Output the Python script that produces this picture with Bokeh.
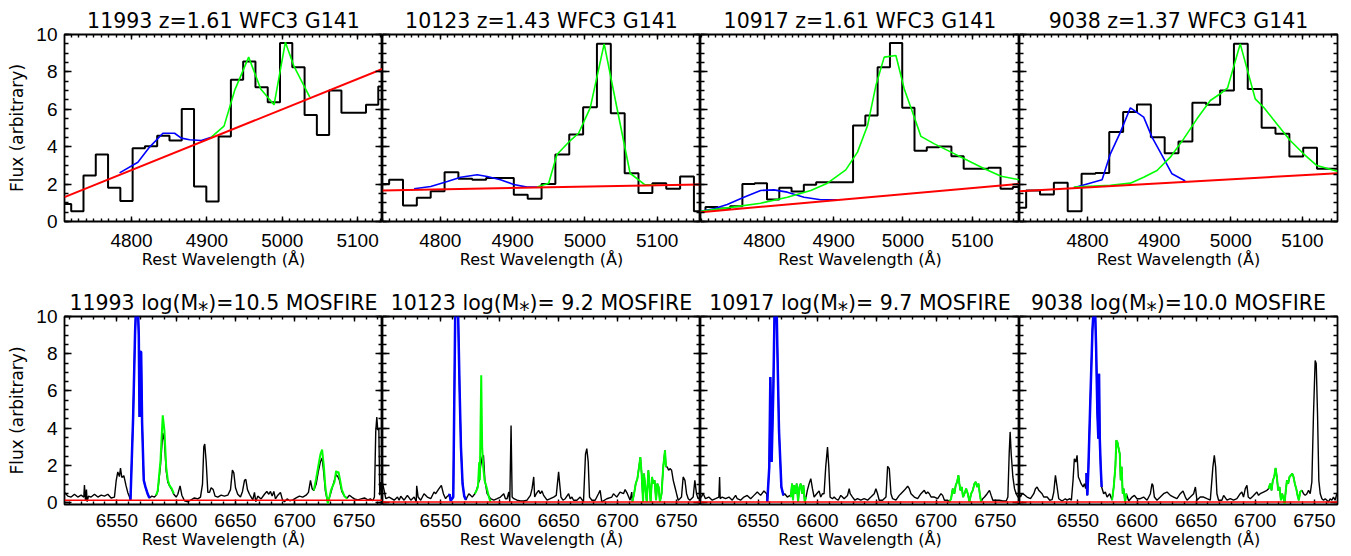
from bokeh.plotting import figure
from bokeh.models import (FixedTicker, LinearAxis, Range1d, CustomJSTickFormatter, Span)
from bokeh.layouts import row, column
from bokeh.embed import file_html
from bokeh.resources import INLINE

# ---------------- text ----------------
obj_ids = ["11993", "10123", "10917", "9038"]
grism_z = ["1.61", "1.43", "1.61", "1.37"]
log_mass = ["10.5", " 9.2", " 9.7", "10.0"]
x_label = "Rest Wavelength (\u00c5)"
y_label = "Flux (arbitrary)"

# ---------------- axes ----------------
grism_xrange = [(4711, 5133), (4720, 5160), (4708, 5168), (4705, 5149)]
mos_xrange = [(6505.9, 6773.9), (6500.7, 6770.3), (6501.4, 6770.4), (6500.6, 6769.6)]
grism_yrange = (0.0, 10.0)
mos_yrange = (-0.1, 10.0)
grism_xticks = [4800, 4900, 5000, 5100]
grism_xminor = list(range(4700, 5200, 10))
mos_xticks = [6550, 6600, 6650, 6700, 6750]
mos_xminor = list(range(6500, 6780, 10))
y_ticks = [0, 2, 4, 6, 8, 10]
y_minor = [k * 0.5 for k in range(-1, 22)]

# ---------------- WFC3 G141 (top row) ----------------
g1_edges = [4703.6, 4719.9, 4736.2, 4752.5, 4768.8, 4785.1, 4801.4, 4817.7, 4834.0, 4850.3, 4866.6, 4882.9, 4899.2, 4915.5,
            4931.8, 4948.1, 4964.4, 4980.7, 4997.0, 5013.3, 5029.6, 5045.9, 5062.2, 5078.5, 5094.8, 5111.1, 5127.4, 5143.7]
g1_flux = [0.94, 0.55, 2.46, 3.58, 1.80, 1.09, 3.92, 4.03, 4.58, 4.33, 6.02, 1.87, 1.07, 4.55, 7.58, 8.56, 7.18, 6.38,
           9.54, 8.25, 5.70, 4.63, 7.00, 5.81, 5.81, 6.24, 7.22]
g1_cont_w = [4711, 5133]
g1_cont_f = [1.30, 8.16]
g1_hb_w = [4784.1, 4808.4, 4823.9, 4841.6, 4857.1, 4866.0, 4877.1, 4892.5, 4905.8]
g1_hb_f = [2.60, 3.17, 3.98, 4.72, 4.72, 4.46, 4.37, 4.33, 4.51]
g1_o3_w = [4905.8, 4922.7, 4936.8, 4955.4, 4971.4, 4989.1, 5004.1, 5015.6, 5036.5]
g1_o3_f = [4.51, 5.10, 7.01, 8.79, 7.09, 6.24, 9.59, 8.29, 6.65]

g2_edges = [4710.0, 4729.2, 4748.4, 4767.5, 4786.7, 4805.9, 4825.0, 4844.2, 4863.4, 4882.5, 4901.7, 4920.9, 4940.1,
            4959.2, 4978.4, 4997.6, 5016.7, 5035.9, 5055.1, 5074.2, 5093.4, 5112.6, 5131.8, 5150.9, 5170.1]
g2_flux = [2.01, 2.23, 0.86, 1.27, 1.62, 2.64, 2.28, 2.23, 2.32, 2.32, 1.43, 1.21, 2.00, 3.58, 4.65, 6.11, 9.50, 5.79,
           2.58, 1.52, 2.05, 1.75, 2.41, 0.55]
g2_cont_w = [4720, 5160]
g2_cont_f = [1.66, 1.98]
g2_hb_w = [4763.7, 4786.7, 4809.7, 4828.1, 4851.0, 4864.8, 4883.2, 4901.6, 4920.0, 4933.8]
g2_hb_f = [1.75, 1.87, 2.14, 2.37, 2.50, 2.41, 2.23, 1.98, 1.84, 1.84]
g2_o3_w = [4933.8, 4949.9, 4961.4, 4979.8, 4991.3, 5007.4, 5026.7, 5044.2, 5062.6, 5083.2, 5099.3]
g2_o3_f = [1.84, 2.05, 3.58, 4.33, 4.72, 6.08, 9.50, 6.11, 2.58, 1.96, 1.96]

g3_edges = [4697.5, 4715.2, 4732.9, 4750.7, 4768.4, 4786.1, 4803.9, 4821.6, 4839.3, 4857.0, 4874.8, 4892.5, 4910.2, 4928.0,
            4945.7, 4963.4, 4981.2, 4998.9, 5016.6, 5034.3, 5052.1, 5069.8, 5087.5, 5105.3, 5123.0, 5140.7, 5158.4, 5176.2]
g3_flux = [0.55, 0.77, 0.70, 0.82, 2.01, 2.05, 1.18, 1.80, 1.60, 1.96, 2.10, 2.10, 2.10, 5.13, 5.67, 8.25, 9.54, 6.08,
           3.78, 3.97, 4.01, 3.49, 2.82, 2.82, 2.87, 1.75, 1.84]
g3_cont_w = [4708, 5168]
g3_cont_f = [0.50, 2.01]
g3_hb_w = [4708.0, 4727.3, 4746.5, 4770.6, 4794.7, 4814.0, 4833.2, 4857.3, 4881.4, 4905.5]
g3_hb_f = [0.55, 0.68, 0.91, 1.30, 1.66, 1.69, 1.57, 1.30, 1.16, 1.16]
g3_o3_w = [4708.0, 4746.5, 4794.7, 4833.2, 4867.0, 4891.0, 4917.5, 4934.4, 4948.9, 4960.9, 4972.9, 4989.8, 5001.8,
           5016.3, 5025.9, 5045.2, 5069.3, 5093.4, 5117.4, 5141.5, 5168.0]
g3_o3_f = [0.55, 0.73, 0.98, 1.30, 1.66, 2.05, 2.76, 3.71, 5.13, 7.27, 8.79, 8.88, 7.09, 5.58, 4.55, 4.15, 3.71, 3.26,
           2.82, 2.42, 2.23]

g4_edges = [4695.0, 4714.3, 4733.6, 4753.0, 4772.3, 4791.7, 4811.0, 4830.3, 4849.7, 4869.0, 4888.4, 4907.7, 4927.0,
            4946.4, 4965.7, 4985.1, 5004.4, 5023.7, 5043.1, 5062.4, 5081.8, 5101.1, 5120.4, 5139.8, 5159.1]
g4_flux = [0.73, 1.66, 1.44, 2.07, 0.55, 2.55, 2.60, 4.78, 5.85, 6.26, 4.51, 3.65, 4.28, 6.35, 6.24, 7.00, 9.50, 7.09,
           5.01, 4.69, 3.48, 3.94, 2.82, 2.82]
g4_cont_w = [4705, 5149]
g4_cont_f = [1.62, 2.58]
g4_hb_w = [4780.8, 4799.4, 4820.3, 4831.9, 4845.9, 4859.8, 4878.4, 4890.0, 4904.0, 4917.9, 4936.5]
g4_hb_f = [1.80, 2.01, 2.23, 3.62, 4.78, 6.08, 5.58, 4.51, 3.53, 2.55, 2.17]
g4_o3_w = [4780.8, 4831.9, 4859.8, 4878.4, 4897.0, 4915.6, 4934.2, 4952.8, 4971.4, 4985.3, 4995.6, 5013.2, 5034.1,
           5045.8, 5064.4, 5083.0, 5101.6, 5120.2, 5149.0]
g4_o3_f = [1.84, 1.93, 2.05, 2.37, 2.73, 3.44, 4.42, 5.49, 6.47, 6.83, 7.15, 9.50, 6.56, 6.11, 5.22, 4.33, 3.62, 2.99, 2.69]

# ---------------- MOSFIRE (bottom row) ----------------
b1_w = [6505.9, 6508.7, 6511.5, 6514.3, 6517.1, 6519.9, 6522.2, 6522.7, 6523.6, 6524.4, 6525.0, 6526.1, 6528.3, 6531.2,
        6534.0, 6536.8, 6539.6, 6542.4, 6545.2, 6548.0, 6549.4, 6550.8, 6552.2, 6553.1, 6554.2, 6555.9, 6557.8, 6559.2,
        6560.7,
        6579.5, 6581.7, 6583.1, 6584.5, 6586.8, 6588.7, 6590.1, 6591.6, 6593.0, 6594.4, 6596.3, 6598.0, 6600.0, 6601.4,
        6603.3, 6604.8, 6607.0, 6609.8, 6612.6, 6615.4, 6618.2, 6620.5, 6622.2, 6623.3, 6624.1, 6625.3, 6626.7, 6628.1,
        6629.5, 6631.2, 6632.8, 6635.1, 6637.9, 6640.7, 6643.5, 6645.8, 6647.4, 6648.6, 6650.0, 6651.9, 6654.2, 6655.9,
        6657.6, 6658.7, 6660.1, 6661.8, 6663.2, 6664.6, 6666.0, 6667.1, 6668.8, 6671.6, 6674.4, 6676.4, 6678.1, 6679.5,
        6680.9, 6682.3, 6683.7, 6685.7, 6687.9, 6689.6, 6691.3, 6693.5, 6695.8, 6698.3, 6701.1, 6703.9, 6706.7, 6709.5,
        6711.5, 6713.2, 6714.6, 6716.0, 6718.0, 6719.9, 6721.6, 6723.0, 6724.4, 6725.8, 6727.8, 6730.0, 6732.0, 6733.4,
        6734.8, 6736.2, 6737.6, 6739.6, 6741.8, 6744.1, 6746.0, 6748.0, 6750.3, 6753.1, 6755.9, 6758.7, 6761.5, 6763.7,
        6765.7, 6767.1, 6768.2, 6769.1, 6769.9, 6770.8, 6771.6, 6772.7, 6773.9]
b1_f = [0.55, 0.35, 0.30, 0.45, 0.30, 0.40, 0.30, 0.95, 0.10, 0.70, 0.05, 0.35, 0.30, 0.45, 0.30, 0.40, 0.35, 0.45,
        0.25, 0.30, 1.15, 1.65, 1.40, 1.85, 1.35, 1.45, 0.90, 0.55, 0.30,
        0.35, 0.30, 0.39, 0.60, 2.00, 3.75, 3.30, 1.70, 1.10, 0.90, 0.70, 0.45, 0.30, 0.45, 0.90, 0.40, 0.10, 0.05, 0.15,
        0.25, 0.20, 0.30, 1.00, 3.00, 3.15, 2.20, 0.55, 0.55, 0.80, 0.70, 0.35, 0.30, 0.40, 0.35, 0.40, 0.70, 1.75, 1.60,
        0.80, 0.45, 0.30, 0.60, 1.20, 1.25, 0.70, 0.45, 0.30, 0.15, 0.55, 0.05, 0.35, 0.20, 0.45, 0.60, 0.45, 0.60, 0.35,
        0.60, 0.20, 0.40, 0.55, 0.15, 0.05, 0.20, 0.10, 0.15, 0.25, 0.35, 0.30, 0.40, 0.55, 1.20, 0.75, 0.65, 1.00, 1.70,
        2.20, 2.40, 1.60, 0.60, 0.00, 0.45, 0.90, 1.20, 1.50, 1.40, 1.20, 0.60, 0.35, 0.25, 0.40, 0.30, 0.20, 0.15, 0.20,
        0.25, 0.15, 0.20, 0.10, 0.30, 3.80, 4.60, 3.90, 4.00, 0.40, 1.10, 0.80]
b1_ha_w = [6561.5, 6563.7, 6565.4, 6566.3, 6567.7, 6568.5, 6569.1, 6569.6, 6570.5, 6571.3, 6572.7, 6574.1, 6576.1, 6577.5]
b1_ha_f = [0.12, 4.5, 9.2, 10.6, 10.6, 9.0, 4.6, 8.1, 8.1, 4.3, 1.2, 0.85, 0.45, 0.25]
b1_n2_w = [6583.1, 6584.5, 6586.8, 6588.7, 6590.1, 6591.6, 6593.0, 6594.4, 6596.3, 6598.0]
b1_n2_f = [0.39, 0.66, 2.27, 4.69, 3.88, 1.92, 1.20, 0.93, 0.75, 0.48]
b1_s2_w = [6716.0, 6718.0, 6719.9, 6721.6, 6723.0, 6724.4, 6725.8, 6727.8, 6729.2, 6730.6, 6732.0, 6733.4, 6734.8,
           6735.7, 6736.8, 6738.2, 6739.6, 6741.8, 6744.1]
b1_s2_f = [0.65, 1.3, 2.0, 2.6, 2.85, 2.0, 0.8, -0.05, 0.3, 0.7, 0.9, 1.1, 1.7, 1.6, 1.65, 1.2, 0.7, 0.35, 0.20]
b1_cont = 0.13

b2_w = [6500.7, 6502.1, 6503.5, 6506.3, 6510.6, 6513.4, 6514.8, 6516.2, 6519.0, 6521.8, 6524.7, 6527.5, 6529.3, 6529.7,
        6530.9, 6533.1, 6535.9, 6538.7, 6541.6, 6544.4, 6545.8, 6548.6, 6550.6, 6552.3, 6554.2, 6555.6,
        6572.5, 6573.9, 6575.4, 6576.8, 6579.0, 6580.4, 6582.7, 6583.8, 6585.2, 6586.3, 6587.5, 6589.4, 6592.3, 6595.1,
        6597.9, 6600.7, 6603.5, 6604.9, 6606.3, 6607.8, 6608.6, 6609.7, 6610.6, 6612.0, 6614.8, 6617.6, 6620.4, 6623.2,
        6626.1, 6627.5, 6628.9, 6629.7, 6631.1, 6633.1, 6634.5, 6635.9, 6637.3, 6640.2, 6643.0, 6645.8, 6648.0, 6650.0,
        6650.9, 6652.0, 6653.7, 6655.6, 6658.5, 6659.9, 6661.3, 6662.7, 6665.5, 6668.3, 6671.1, 6672.8, 6673.9, 6675.1,
        6676.2, 6678.2, 6681.0, 6683.8, 6685.2, 6686.6, 6690.9, 6695.1, 6696.5, 6697.9, 6699.3, 6702.1, 6705.0, 6706.4,
        6708.3, 6710.6, 6712.0,
        6742.1, 6743.3, 6744.4, 6745.8, 6747.2, 6748.6, 6750.0, 6751.4, 6752.8, 6754.2, 6755.6, 6757.1, 6758.5, 6759.9,
        6761.3, 6764.1, 6765.5, 6766.9, 6768.3, 6770.3]
b2_f = [1.06, 0.66, 0.21, 0.30, 0.13, 0.30, 0.13, 0.34, 0.13, 0.39, 0.13, 0.30, 0.05, 0.90, 0.30, 0.13, 0.48, 0.30,
        0.21, 0.57, 0.48, 0.75, 0.93, 0.48, 0.21, 0.34,
        0.30, 0.48, 0.39, 0.30, 0.48, 0.66, 1.20, 1.92, 2.45, 2.54, 1.20, 0.48, 0.21, 0.13, 0.21, 0.30, 0.48, 0.21, 0.21,
        0.57, 0.04, 4.15, 0.30, 0.21, 0.13, 0.09, 0.09, 0.13, 0.39, 0.75, 1.38, 0.30, 0.48, 0.66, 0.48, 0.63, 0.39, 0.13,
        0.21, 0.30, 0.39, 1.65, 1.02, 0.30, 0.13, 0.21, 0.48, 0.21, 0.30, 0.13, 0.13, 0.30, 0.04, 2.60, 2.90, 2.20, 0.30,
        0.13, 0.13, 0.48, 0.66, 0.04, 0.21, 0.30, 0.48, 0.39, 0.30, 0.57, 0.48, 0.70, 0.48, 0.13, 0.57,
        1.92, 1.74, 1.83, 1.74, 1.20, 0.84, 0.48, 0.13, 0.21, 0.30, 1.38, 1.20, 0.48, 0.21, 0.13, 0.30, 1.20, 0.48, 0.21,
        0.30]
b2_ha_w = [6557.0, 6557.6, 6558.5, 6560.7, 6562.4, 6564.7, 6566.1, 6567.2, 6568.6, 6570.0, 6571.4]
b2_ha_f = [0.39, 0.45, 0.10, 0.30, 10.5, 10.5, 6.0, 3.0, 1.0, 0.35, 0.15]
b2_n2_w = [6579.0, 6580.4, 6581.6, 6582.7, 6583.2, 6584.4, 6585.2, 6586.1, 6587.2, 6588.9, 6590.9, 6592.3]
b2_n2_f = [0.48, 0.66, 0.84, 2.18, 1.20, 6.84, 2.99, 1.92, 1.20, 0.84, 0.30, 0.04]
b2_s2_w = [6712.5, 6714.0, 6715.4, 6716.8, 6718.2, 6719.3, 6720.4, 6721.6, 6722.4, 6723.5, 6724.7, 6726.1, 6726.9,
           6728.0, 6729.2, 6730.3, 6731.4, 6732.6, 6733.7, 6734.8, 6735.9, 6737.3, 6738.7, 6740.2, 6741.0]
b2_s2_f = [0.04, 0.48, 1.02, 1.29, 1.92, 2.45, 1.56, 0.04, 1.56, 0.84, 0.04, 1.74, 1.02, 0.04, 1.38, 1.02, 1.20, 0.13,
           1.02, 0.84, 0.04, 0.48, 1.92, 2.81, 1.92]
b2_cont = 0.04

b3_w = [6501.4, 6502.0, 6503.7, 6505.6, 6508.4, 6511.3, 6514.1, 6516.9, 6517.5, 6518.0, 6519.7, 6522.5, 6525.4, 6528.2,
        6531.0, 6532.4, 6535.2, 6538.0, 6540.8, 6543.7, 6546.5, 6549.3, 6552.1, 6554.9, 6557.2,
        6572.4, 6574.6, 6576.9,
        6591.5, 6593.0, 6594.4, 6595.8, 6597.2, 6599.4, 6601.4, 6602.8, 6604.2, 6605.6, 6607.0, 6608.5, 6609.6, 6610.7,
        6612.7, 6614.1, 6615.5, 6617.5, 6619.7, 6621.1, 6622.5, 6625.4, 6626.8, 6627.6, 6629.6, 6631.6, 6633.8, 6636.6,
        6639.4, 6642.3, 6645.1, 6647.9, 6649.3, 6650.7, 6652.1, 6654.9, 6657.8, 6659.2, 6660.6, 6662.0, 6663.4, 6666.2,
        6669.0, 6670.4, 6673.2, 6676.1, 6677.5, 6678.9, 6681.7, 6684.5, 6687.3, 6690.1, 6691.6, 6693.0, 6694.4, 6695.8,
        6698.6, 6701.4, 6704.2, 6705.6, 6707.1, 6709.9,
        6739.4, 6740.9, 6743.1, 6745.1, 6746.5, 6747.9, 6750.7, 6753.5, 6756.3, 6759.2, 6760.6, 6761.7, 6762.5, 6763.4,
        6764.8, 6766.2, 6767.6, 6769.0, 6770.4]
b3_f = [0.30, 0.30, 0.48, 0.21, 0.30, 0.13, 0.21, 0.30, 1.38, 0.21, 0.30, 0.21, 0.30, 0.13, 0.39, 0.21, 0.13, 0.30,
        0.39, 0.21, 0.39, 0.57, 0.39, 0.63, 0.48,
        0.48, 0.30, 0.39,
        0.66, 1.02, 1.29, 0.75, 0.30, 0.48, 0.63, 0.30, 0.48, 0.48, 1.92, 2.99, 1.92, 0.30, 0.21, 0.30, 0.21, 0.13, 0.39,
        0.30, 0.21, 0.39, 0.75, 0.48, 0.30, 0.13, 0.21, 0.13, 0.21, 0.13, 0.30, 0.48, 0.75, 0.48, 0.13, 0.13, 0.30, 1.95,
        1.83, 0.48, 0.21, 0.13, 0.39, 0.48, 0.66, 0.88, 0.75, 0.48, 0.30, 0.21, 0.48, 0.66, 0.48, 0.57, 0.48, 0.30, 0.30,
        0.21, 0.48, 0.39, 0.13, 0.13,
        0.21, 0.30, 0.48, 0.66, 0.39, 0.13, 0.13, 0.13, 0.09, 0.09, 0.30, 2.63, 3.80, 2.63, 1.38, 0.75, 0.48, 0.30, 0.30]
b3_ha_w = [6557.7, 6559.4, 6560.3, 6561.4, 6562.8, 6563.9, 6565.6, 6566.2, 6567.6, 6569.6, 6571.3]
b3_ha_f = [0.04, 1.92, 6.75, 2.18, 6.03, 10.5, 10.5, 8.36, 3.88, 0.84, 0.39]
b3_n2_w = [6577.5, 6578.6, 6579.4, 6580.3, 6581.4, 6582.5, 6583.7, 6584.8, 6585.9, 6587.0, 6588.2, 6589.3, 6590.4]
b3_n2_f = [0.30, 1.02, 0.13, 0.93, 0.48, 1.02, 0.04, 0.84, 1.02, 0.48, 0.93, 0.04, 0.30]
b3_s2_w = [6711.3, 6712.7, 6714.1, 6715.5, 6716.6, 6717.8, 6718.9, 6719.7, 6720.6, 6721.7, 6722.8, 6724.0, 6725.4,
           6726.8, 6728.2, 6729.6, 6731.0, 6732.4, 6733.5, 6734.7, 6735.8, 6736.9, 6738.0]
b3_s2_f = [0.04, 0.21, 0.75, 0.48, 0.93, 1.11, 1.47, 1.02, 0.66, 0.84, 0.30, 0.48, 0.75, 0.48, 0.04, 0.48, 0.66, 1.02,
           1.11, 0.84, 1.02, 0.48, 0.04]
b3_cont = 0.04

b4_w = [6500.6, 6501.4, 6502.8, 6504.2, 6507.0, 6509.9, 6512.7, 6514.1, 6515.5, 6516.9, 6518.3, 6519.7, 6521.1, 6524.0,
        6526.2, 6528.2, 6529.6, 6531.0, 6532.4, 6533.8, 6536.6, 6539.4, 6540.8, 6543.1, 6544.5, 6545.9, 6547.0, 6548.2,
        6549.3, 6550.4, 6551.6, 6552.7, 6554.4, 6555.5, 6556.6,
        6571.8, 6573.2, 6574.7, 6576.9,
        6593.0, 6595.8, 6597.8, 6600.0, 6602.8, 6605.6, 6608.5, 6611.3, 6612.7, 6613.5, 6614.7, 6616.9, 6619.7, 6622.5,
        6625.4, 6628.2, 6631.0, 6633.8, 6636.6, 6638.9, 6640.9, 6642.3, 6645.1, 6647.9, 6649.4, 6650.7, 6653.5, 6656.3,
        6659.2, 6662.0, 6664.2, 6665.4, 6666.5, 6667.6, 6669.0, 6671.8, 6673.3, 6676.1, 6678.9, 6681.7, 6684.5, 6687.3,
        6688.7, 6690.1, 6691.6, 6693.0, 6694.1, 6695.8, 6698.0, 6700.0, 6701.4, 6702.8, 6704.2, 6707.0, 6709.9,
        6740.9, 6742.3, 6743.7, 6745.1, 6746.5, 6747.9, 6749.3, 6750.7, 6751.6, 6752.7, 6753.8, 6755.0, 6756.4, 6757.8,
        6759.2, 6760.6, 6762.0, 6763.4, 6764.8, 6766.2, 6767.6, 6769.0, 6769.6]
b4_f = [0.48, 0.30, 0.48, 0.45, 0.30, 0.21, 0.48, 0.75, 0.84, 0.66, 0.57, 0.48, 0.30, 0.30, 0.13, 0.16, 0.57, 1.47,
        0.84, 0.21, 0.09, 0.21, 0.13, 0.21, 0.13, 1.20, 2.36, 2.18, 2.54, 1.38, 1.20, 1.02, 0.84, 1.02, 0.75,
        0.48, 0.57, 0.30, 0.48,
        0.09, 0.30, 0.39, 0.21, 0.21, 0.30, 0.13, 0.48, 1.02, 0.93, 0.30, 0.13, 0.30, 0.48, 0.57, 0.39, 0.30, 0.21, 0.48,
        0.63, 0.30, 0.13, 0.30, 0.48, 0.84, 0.13, 0.30, 0.30, 0.21, 0.13, 1.92, 2.54, 1.92, 0.48, 0.13, 0.13, 0.39, 0.13,
        0.21, 0.13, 0.21, 0.48, 0.57, 0.30, 0.75, 0.93, 0.30, 0.21, 0.34, 0.48, 0.57, 0.39, 0.48, 0.57, 0.66,
        0.48, 0.39, 0.48, 0.66, 0.48, 1.11, 4.78, 7.64, 7.47, 4.78, 1.20, 0.48, 0.21, 0.13, 0.21, 0.13, 0.04, 0.21, 0.13,
        0.30, 0.13, 0.48, 0.50]
b4_ha_w = [6557.2, 6558.0, 6558.9, 6560.6, 6562.3, 6563.4, 6564.5, 6565.4, 6566.5, 6567.3, 6567.9, 6568.5, 6569.3, 6570.1]
b4_ha_f = [1.59, 0.39, 1.92, 5.67, 9.26, 10.5, 10.5, 8.36, 4.78, 3.44, 6.93, 3.44, 1.92, 0.84]
b4_n2_w = [6578.9, 6580.3, 6581.7, 6582.5, 6583.4, 6584.2, 6585.4, 6586.2, 6587.0, 6587.9, 6588.7, 6589.9, 6591.0]
b4_n2_f = [0.13, 0.84, 1.92, 3.35, 3.26, 2.99, 2.63, 1.20, 1.92, 0.48, 0.75, 0.04, 0.48]
b4_s2_w = [6711.3, 6712.7, 6713.8, 6714.9, 6716.1, 6717.2, 6718.3, 6719.4, 6720.6, 6721.7, 6722.8, 6724.0, 6724.8,
           6725.6, 6726.8, 6727.9, 6729.0, 6730.2, 6731.3, 6732.4, 6733.5, 6734.7, 6735.8, 6736.9, 6738.0, 6739.5]
b4_s2_f = [0.75, 1.02, 0.66, 1.20, 1.38, 1.86, 1.38, 0.66, 0.84, 0.13, 0.48, 0.21, -0.05, 0.48, 1.20, 1.02, 1.38, 1.47,
           1.56, 1.38, 1.02, 0.75, 0.39, 0.13, 0.57, 0.66]
b4_cont = 0.04

# ---------------- assemble ----------------
grism = [
    (g1_edges, g1_flux, g1_cont_w, g1_cont_f, g1_hb_w, g1_hb_f, g1_o3_w, g1_o3_f),
    (g2_edges, g2_flux, g2_cont_w, g2_cont_f, g2_hb_w, g2_hb_f, g2_o3_w, g2_o3_f),
    (g3_edges, g3_flux, g3_cont_w, g3_cont_f, g3_hb_w, g3_hb_f, g3_o3_w, g3_o3_f),
    (g4_edges, g4_flux, g4_cont_w, g4_cont_f, g4_hb_w, g4_hb_f, g4_o3_w, g4_o3_f),
]
# last element: which coloured segments hide the black trace beneath them
mosfire = [
    (b1_w, b1_f, b1_ha_w, b1_ha_f, b1_n2_w, b1_n2_f, b1_s2_w, b1_s2_f, b1_cont, ("ha",)),
    (b2_w, b2_f, b2_ha_w, b2_ha_f, b2_n2_w, b2_n2_f, b2_s2_w, b2_s2_f, b2_cont, ("ha", "s2")),
    (b3_w, b3_f, b3_ha_w, b3_ha_f, b3_n2_w, b3_n2_f, b3_s2_w, b3_s2_f, b3_cont, ("ha", "n2", "s2")),
    (b4_w, b4_f, b4_ha_w, b4_ha_f, b4_n2_w, b4_n2_f, b4_s2_w, b4_s2_f, b4_cont, ("ha", "n2", "s2")),
]

TOP_T, TOP_F, TOP_B = 34, 187, 57
BOT_T, BOT_F, BOT_B = 38, 188, 50
FW = [318, 318, 319, 318]
LB = [64, 0, 0, 0]
RB = [0, 0, 0, 10]
TICK_FONT = "Liberation Sans"
TEXT_FONT = "DejaVu Sans"
BLUE, GREEN, RED = "#0000ff", "#00ff00", "#ff0000"


def style_axis(ax, labels, tick_in, minor_in, standoff):
    ax.axis_line_color = None
    ax.major_tick_in = tick_in
    ax.major_tick_out = 0
    ax.minor_tick_in = minor_in
    ax.minor_tick_out = 0
    ax.major_tick_line_color = "black"
    ax.minor_tick_line_color = "black"
    ax.major_tick_line_width = 1.4
    ax.minor_tick_line_width = 1.4
    if labels:
        ax.major_label_text_font = TICK_FONT
        ax.major_label_text_font_size = "19px"
        ax.major_label_text_color = "black"
        ax.major_label_standoff = standoff
    else:
        ax.formatter = CustomJSTickFormatter(code="return ''")
        ax.major_label_text_font_size = "1px"
        ax.major_label_standoff = 0


def base_fig(i, xr, yr, fh, tb, bb, xmaj, xmin, xstand, title):
    p = figure(frame_width=FW[i], frame_height=fh, x_range=Range1d(*xr), y_range=Range1d(*yr),
               output_backend="svg", toolbar_location=None,
               x_axis_location=None, y_axis_location=None,
               min_border_left=LB[i], min_border_right=RB[i], min_border_top=tb, min_border_bottom=bb,
               background_fill_color="white", border_fill_color="white",
               outline_line_color="black", outline_line_width=1.8, title=title)
    p.title.align = "center"
    p.title.text_font = TEXT_FONT
    p.title.text_font_size = "20.5px"
    p.title.text_font_style = "normal"
    p.title.text_color = "black"
    p.title.standoff = 4
    p.grid.visible = False
    for side in ("below", "above"):
        ax = LinearAxis(ticker=FixedTicker(ticks=xmaj, minor_ticks=xmin))
        style_axis(ax, side == "below", 5, 3, xstand)
        if side == "below":
            ax.axis_label = x_label
            ax.axis_label_text_font = TEXT_FONT
            ax.axis_label_text_font_size = "16px"
            ax.axis_label_text_font_style = "normal"
            ax.axis_label_text_color = "black"
            ax.axis_label_standoff = 0
        p.add_layout(ax, side)
    for side in ("left", "right"):
        ax = LinearAxis(ticker=FixedTicker(ticks=y_ticks, minor_ticks=y_minor))
        style_axis(ax, side == "left" and i == 0, 7, 4, 7)
        if side == "left" and i == 0:
            ax.axis_label = y_label
            ax.axis_label_text_font = TEXT_FONT
            ax.axis_label_text_font_size = "17px"
            ax.axis_label_text_font_style = "normal"
            ax.axis_label_text_color = "black"
            ax.axis_label_standoff = 6
        p.add_layout(ax, side)
    return p


top_figs = []
for i, (edges, flux, cw, cf, hw, hf, ow, of) in enumerate(grism):
    p = base_fig(i, grism_xrange[i], grism_yrange, TOP_F, TOP_T, TOP_B, grism_xticks, grism_xminor, 12,
                 f"{obj_ids[i]} z={grism_z[i]} WFC3 G141")
    p.step(x=edges, y=flux + [flux[-1]], mode="after", line_color="black", line_width=2.0)
    p.line(hw, hf, line_color=BLUE, line_width=1.6)
    p.line(ow, of, line_color=GREEN, line_width=1.6)
    p.line(cw, cf, line_color=RED, line_width=2.0)
    top_figs.append(p)

bot_figs = []
for i, (bw, bf, hw, hf, nw, nf, sw, sf, cont, hidden) in enumerate(mosfire):
    p = base_fig(i, mos_xrange[i], mos_yrange, BOT_F, BOT_T, BOT_B, mos_xticks, mos_xminor, 9,
                 f"{obj_ids[i]} log(M\u204e)={log_mass[i]} MOSFIRE")
    segs = {"ha": (hw, hf), "n2": (nw, nf), "s2": (sw, sf)}
    pts = list(zip(bw, bf))
    for key in hidden:
        pts += list(zip(*segs[key]))
    pts.sort(key=lambda t: t[0])
    p.line([t[0] for t in pts], [t[1] for t in pts], line_color="black", line_width=1.4)
    p.line(hw, hf, line_color=BLUE, line_width=2.5)
    p.line(nw, nf, line_color=GREEN, line_width=2.0)
    p.line(sw, sf, line_color=GREEN, line_width=2.0)
    p.add_layout(Span(location=cont, dimension="width", line_color=RED, line_width=1.5))
    bot_figs.append(p)

layout = column(row(*top_figs), row(*bot_figs))
open("out.html", "w").write(file_html(layout, INLINE, title="Spectra"))
